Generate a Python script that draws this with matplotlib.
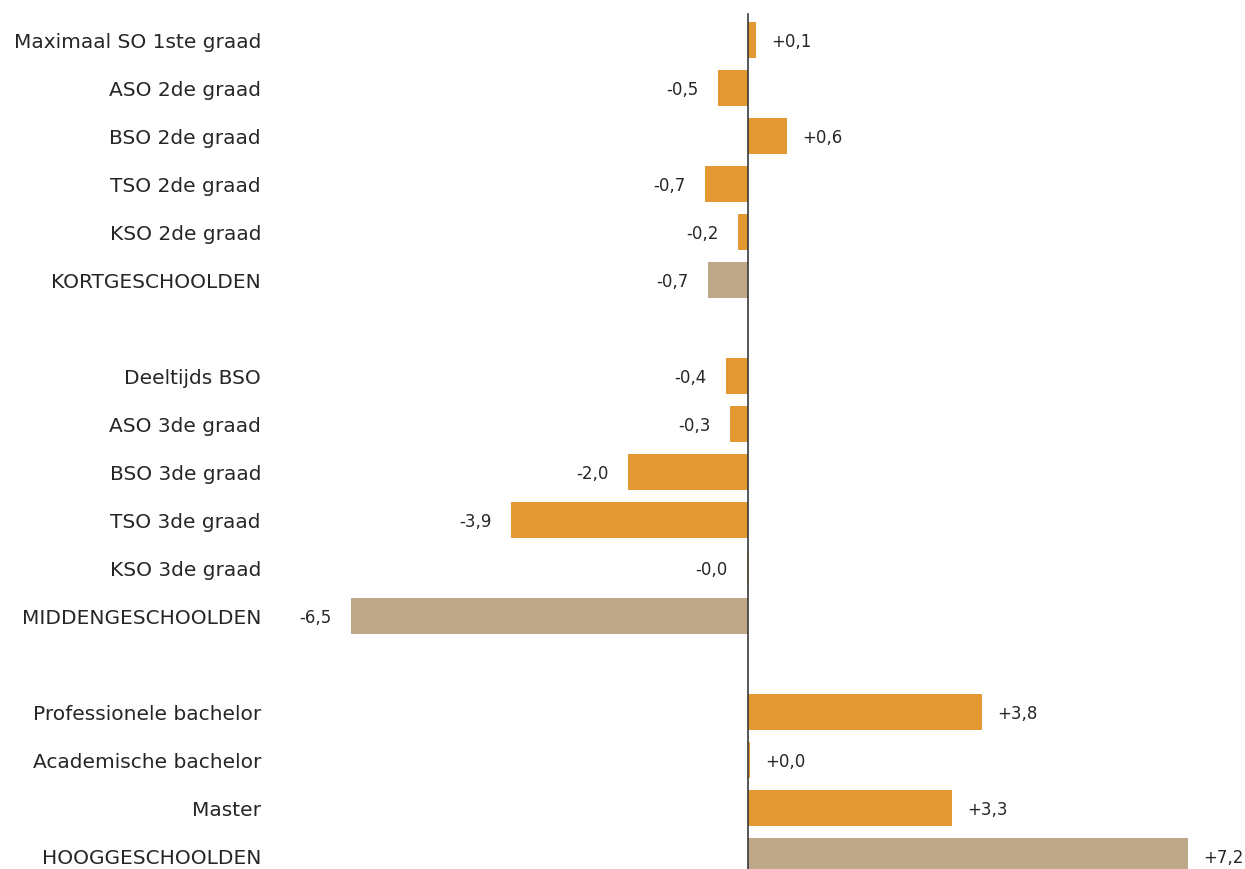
import matplotlib
matplotlib.use("Agg")
import matplotlib.pyplot as plt

categories = [
    "Maximaal SO 1ste graad", "ASO 2de graad", "BSO 2de graad", "TSO 2de graad",
    "KSO 2de graad", "KORTGESCHOOLDEN",
    None,
    "Deeltijds BSO", "ASO 3de graad", "BSO 3de graad", "TSO 3de graad",
    "KSO 3de graad", "MIDDENGESCHOOLDEN",
    None,
    "Professionele bachelor", "Academische bachelor", "Master", "HOOGGESCHOOLDEN",
]
values = [
    0.13, -0.49, 0.64, -0.70, -0.17, -0.66,
    None,
    -0.36, -0.29, -1.96, -3.88, -0.02, -6.50,
    None,
    3.83, 0.04, 3.34, 7.20,
]
is_total = [
    False, False, False, False, False, True,
    None,
    False, False, False, False, False, True,
    None,
    False, False, False, True,
]

ORANGE = "#E29833"
TAN = "#BDA98A"
TEXT = "#262626"

plt.rcParams['font.family'] = ['DejaVu Sans']

fig = plt.figure(figsize=(12.45, 8.70), dpi=100)
ax = fig.add_axes([0, 0, 1, 1])

ppu = 61.1  # pixels per unit
x0 = 748
ax.set_xlim(-x0 / ppu, (1245 - x0) / ppu)
row0, step = 41, 48
ax.set_ylim((870 - row0) / step, -row0 / step)

for i, (cat, v, tot) in enumerate(zip(categories, values, is_total)):
    if cat is None:
        continue
    ax.barh(i, v, height=0.75, color=TAN if tot else ORANGE, linewidth=0)
    ax.annotate(cat, (-(x0 - 261) / ppu, i), xytext=(0, -1), textcoords="offset points",
                ha="right", va="center", fontsize=14.5, color=TEXT)
    lab = f"{v:+.1f}".replace(".", ",")
    if v >= 0:
        ax.annotate(lab, (v, i), xytext=(11, -1), textcoords="offset points",
                    ha="left", va="center", fontsize=12, color=TEXT)
    else:
        ax.annotate(lab, (v, i), xytext=(-14, -1), textcoords="offset points",
                    ha="right", va="center", fontsize=12, color=TEXT)

ax.plot([0, 0], [(15 - row0) / step, 18], color="#3a3a3a", lw=1.2)

ax.axis("off")
fig.savefig("out.png", dpi=100)
